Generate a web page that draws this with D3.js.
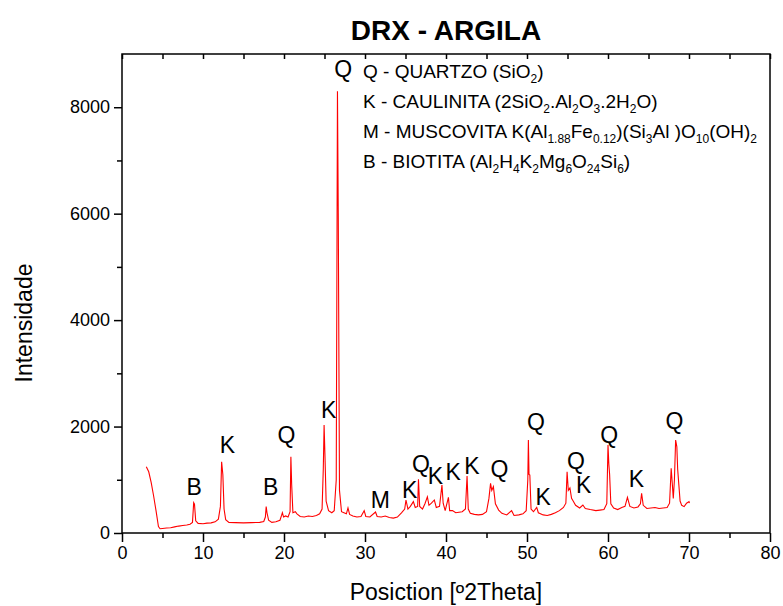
<!DOCTYPE html>
<html>
<head>
<meta charset="utf-8">
<script src="https://cdn.jsdelivr.net/npm/d3@7"></script>
<style>
  body { margin: 0; background: #fff; }
  svg text { font-family: "Liberation Sans", Arial, sans-serif; fill: #000; }
</style>
</head>
<body>
<svg id="chart" width="783" height="606"></svg>
<script>
/* XRD pattern of the clay sample: [2theta, intensity] */
const scan = [
  [3.0, 1245], [3.3, 1150], [3.6, 950], [3.9, 700], [4.2, 420], [4.5, 120], [4.7, 80],
  [5.0, 85], [5.5, 95], [6.0, 100], [6.5, 115], [7.0, 130], [7.5, 140], [8.0, 150],
  [8.4, 165], [8.7, 200], [8.85, 569], [8.95, 540], [9.1, 230], [9.4, 180], [10.0, 175],
  [10.5, 185], [11.0, 190], [11.5, 210], [11.9, 260], [12.15, 500], [12.3, 1340],
  [12.45, 1100], [12.6, 450], [12.8, 250], [13.2, 200], [14.0, 195], [15.0, 190],
  [16.0, 195], [17.0, 200], [17.5, 215], [17.7, 300], [17.8, 495], [17.9, 380],
  [18.1, 240], [18.5, 200], [19.0, 210], [19.5, 240], [19.7, 330], [19.8, 380],
  [19.95, 300], [20.2, 320], [20.5, 300], [20.75, 400], [20.85, 1433], [20.95, 900],
  [21.1, 380], [21.4, 400], [21.6, 360], [22.0, 310], [22.5, 300], [23.0, 320],
  [23.5, 310], [24.0, 330], [24.4, 360], [24.7, 450], [24.85, 1200], [24.95, 2028],
  [25.05, 1500], [25.2, 600], [25.5, 420], [25.9, 380], [26.2, 420], [26.45, 1000],
  [26.6, 8300], [26.7, 6000], [26.85, 800], [27.1, 400], [27.4, 380], [27.7, 360],
  [27.9, 470], [28.1, 350], [28.5, 320], [29.0, 300], [29.5, 310], [29.9, 420],
  [30.1, 310], [30.6, 300], [31.3, 395], [31.5, 310], [32.0, 300], [32.5, 320],
  [33.0, 290], [33.5, 280], [34.0, 300], [34.5, 380], [34.9, 450], [35.06, 620],
  [35.3, 450], [35.6, 500], [35.97, 590], [36.2, 480], [36.5, 500], [36.6, 1008],
  [36.75, 500], [37.1, 450], [37.4, 550], [37.7, 680], [37.9, 520], [38.2, 560],
  [38.56, 620], [38.8, 480], [39.2, 500], [39.5, 900], [39.65, 560], [39.9, 420],
  [40.3, 670], [40.45, 420], [40.8, 420], [41.2, 380], [41.6, 390], [42.0, 400],
  [42.4, 450], [42.6, 1070], [42.75, 450], [43.0, 370], [43.5, 350], [44.0, 340],
  [44.5, 350], [45.0, 400], [45.3, 650], [45.5, 933], [45.65, 800], [45.85, 870],
  [46.1, 550], [46.5, 430], [46.9, 370], [47.5, 340], [48.1, 420], [48.4, 330],
  [49.0, 340], [49.5, 360], [49.9, 420], [50.1, 1000], [50.17, 1746], [50.25, 1100],
  [50.35, 1090], [50.5, 450], [50.8, 400], [51.2, 482], [51.4, 380], [52.0, 340],
  [52.5, 330], [53.0, 350], [53.5, 380], [54.0, 420], [54.5, 480], [54.8, 560],
  [54.95, 1151], [55.1, 800], [55.3, 845], [55.5, 650], [55.7, 600], [56.0, 520],
  [56.5, 470], [56.9, 525], [57.2, 460], [57.8, 440], [58.5, 420], [59.0, 430],
  [59.5, 440], [59.85, 550], [60.0, 1652], [60.1, 1300], [60.2, 1100], [60.35, 550],
  [60.7, 470], [61.2, 440], [61.7, 480], [62.1, 500], [62.4, 670], [62.7, 500],
  [63.2, 470], [63.7, 490], [64.0, 550], [64.15, 745], [64.35, 520], [64.8, 460],
  [65.3, 470], [65.8, 480], [66.3, 460], [66.8, 470], [67.3, 480], [67.6, 560],
  [67.8, 1215], [67.95, 900], [68.06, 650], [68.2, 1000], [68.35, 1746], [68.5, 1620],
  [68.6, 1200], [68.75, 900], [68.9, 600], [69.1, 520], [69.4, 495], [69.7, 560],
  [70.0, 590], [70.05, 560]
];

/* phase letters placed over the peaks: [letter, 2theta, intensity at baseline] */
const peakLabels = [
  ['B', 8.9, 714], ['K', 13.0, 1497], ['B', 18.35, 714], ['Q', 20.3, 1684],
  ['K', 25.5, 2154], ['Q', 27.3, 8560], ['M', 31.9, 464], ['K', 35.5, 652],
  ['Q', 36.9, 1151], ['K', 38.7, 920], ['K', 40.9, 995], ['K', 43.2, 1108],
  ['Q', 46.6, 1057], ['Q', 51.1, 1934], ['K', 52.0, 526], ['Q', 56.05, 1196],
  ['K', 57.0, 745], ['Q', 60.16, 1684], ['K', 63.5, 870], ['Q', 68.2, 1947]
];

/* legend lines, each a list of [text, isSubscript] */
const legendLines = [
  [['Q - QUARTZO (SiO', 0], ['2', 1], [')', 0]],
  [['K - CAULINITA (2SiO', 0], ['2', 1], ['.Al', 0], ['2', 1], ['O', 0], ['3', 1],
   ['.2H', 0], ['2', 1], ['O)', 0]],
  [['M - MUSCOVITA K(Al', 0], ['1.88', 1], ['Fe', 0], ['0.12', 1], [')(Si', 0], ['3', 1],
   ['Al )O', 0], ['10', 1], ['(OH)', 0], ['2', 1]],
  [['B - BIOTITA (Al', 0], ['2', 1], ['H', 0], ['4', 1], ['K', 0], ['2', 1], ['Mg', 0],
   ['6', 1], ['O', 0], ['24', 1], ['Si', 0], ['6', 1], [')', 0]]
];

const xTicks = [0, 10, 20, 30, 40, 50, 60, 70, 80];
const yTicks = [0, 2000, 4000, 6000, 8000];

const margin = { left: 122, right: 13, top: 54, bottom: 73 };
const width = 783, height = 606;

const svg = d3.select('#chart');

const x = d3.scaleLinear().domain([0, 80]).range([margin.left, width - margin.right]);
const y = d3.scaleLinear().domain([0, 9000]).range([height - margin.bottom, margin.top]);

// plot frame
svg.append('rect')
  .attr('x', x(0)).attr('y', y(9000))
  .attr('width', x(80) - x(0)).attr('height', y(0) - y(9000))
  .attr('fill', 'none').attr('stroke', '#000').attr('stroke-width', 1.5);

// bottom axis, major + minor outward ticks
const xAxis = svg.append('g').attr('transform', `translate(0,${y(0)})`);
xAxis.call(d3.axisBottom(x).tickValues(xTicks).tickSize(9).tickPadding(4));
xAxis.append('g').call(d3.axisBottom(x).tickValues(d3.range(5, 80, 10)).tickSize(5).tickFormat(''));

// left axis
const yAxis = svg.append('g').attr('transform', `translate(${x(0)},0)`);
yAxis.call(d3.axisLeft(y).tickValues(yTicks).tickFormat(d3.format('d')).tickSize(8).tickPadding(4));
yAxis.append('g').call(d3.axisLeft(y).tickValues(d3.range(1000, 9000, 2000)).tickSize(5).tickFormat(''));

// top axis, inward ticks
svg.append('g').attr('transform', `translate(0,${y(9000)})`)
  .call(d3.axisBottom(x).tickValues(d3.range(0, 81, 5)).tickSize(5).tickFormat(''));

svg.selectAll('.domain').remove();
svg.selectAll('.tick line').attr('stroke', '#000').attr('stroke-width', 1.5);
svg.selectAll('.tick text')
  .style('font-family', '"Liberation Sans", Arial, sans-serif')
  .style('font-size', '18px').attr('fill', '#000');

// pattern
svg.append('path')
  .datum(scan)
  .attr('fill', 'none')
  .attr('stroke', '#ff0000')
  .attr('stroke-width', 1.1)
  .attr('d', d3.line().x(d => x(d[0])).y(d => y(d[1])));

// peak letters
svg.selectAll('.peak')
  .data(peakLabels)
  .join('text')
  .attr('class', 'peak')
  .attr('x', d => x(d[1]))
  .attr('y', d => y(d[2]))
  .attr('text-anchor', 'middle')
  .style('font-size', '23px')
  .text(d => d[0]);

// legend with subscripts
const legend = svg.append('g');
legendLines.forEach((parts, i) => {
  const t = legend.append('text')
    .attr('x', 363)
    .attr('y', 78 + i * 30)
    .style('font-size', '19px');
  let shifted = false;
  parts.forEach(([s, sub]) => {
    const span = t.append('tspan').text(s);
    if (sub && !shifted) { span.attr('dy', 5); shifted = true; }
    if (!sub && shifted) { span.attr('dy', -5); shifted = false; }
    if (sub) span.style('font-size', '12px');
  });
});

// titles
svg.append('text')
  .attr('x', (x(0) + x(80)) / 2).attr('y', 40)
  .attr('text-anchor', 'middle')
  .style('font-size', '28px').style('font-weight', 'bold')
  .text('DRX - ARGILA');

svg.append('text')
  .attr('x', (x(0) + x(80)) / 2).attr('y', 600)
  .attr('text-anchor', 'middle')
  .style('font-size', '23px')
  .text('Posiction [º2Theta]');

svg.append('text')
  .attr('transform', `translate(32,323) rotate(-90)`)
  .attr('text-anchor', 'middle')
  .style('font-size', '23px')
  .text('Intensidade');
</script>
</body>
</html>
